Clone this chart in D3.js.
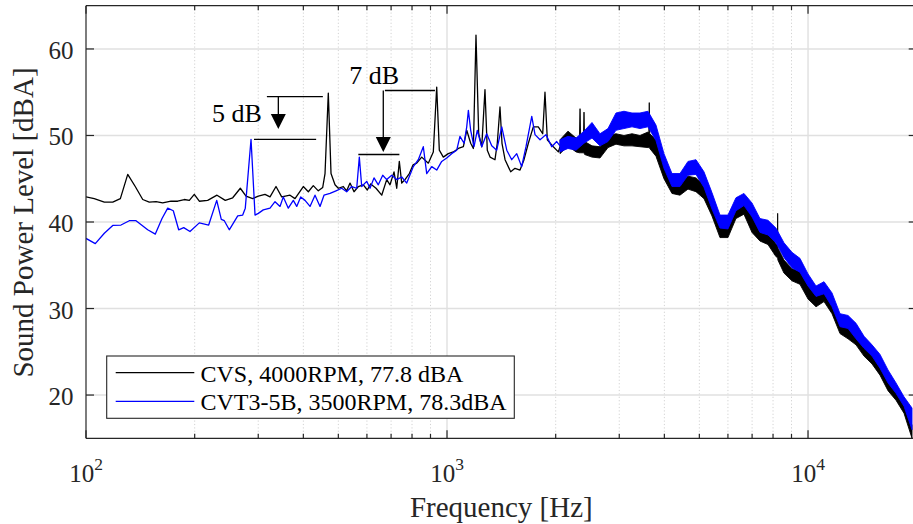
<!DOCTYPE html>
<html>
<head>
<meta charset="utf-8">
<script src="https://cdn.jsdelivr.net/npm/d3@7/dist/d3.min.js"></script>
<style>
  html, body { margin: 0; padding: 0; background: #ffffff; }
  svg { display: block; font-family: "Liberation Serif", "Times New Roman", serif; }
</style>
</head>
<body>
<svg id="chart" width="913" height="524"></svg>
<script>
// ---- Spectrum data: CVS, 4000 RPM (black) ----
// Resolved low-frequency part (single trace)
const cvsFreq = [100, 105.4, 112.4, 118.6, 124.5, 130.5, 136.9, 143.6, 149.7, 156.3, 163.1, 172.0, 179.5, 187.2, 193.3, 199.5, 206.0, 217.3, 230.6, 243.1, 254.9, 267.6, 277.5, 289.6, 300.1, 313.2, 323.4, 336.0, 348.4, 367.4, 379.3, 399.9, 412.9, 426.2, 440.0, 452.6, 459.3, 469.0, 477.2, 489.5, 499.9, 516.1, 527.4, 538.7, 552.6, 568.0, 586.4, 601.5, 614.7, 635.8, 659.4, 680.7, 695.2, 713.2, 725.6, 737.7, 749.1, 765.0, 786.3, 805.1, 824.3, 851.0, 887.6, 916.3, 936.4, 952.1, 976.7, 1008, 1041, 1075, 1110, 1134, 1163, 1183, 1203, 1224, 1248, 1274, 1293, 1316, 1358, 1378, 1402, 1420, 1448, 1501, 1543, 1593, 1634, 1680, 1734, 1790, 1841, 1868, 1896, 1970, 2034, 2056];
const cvsLevel = [42.9, 42.7, 42.3, 42.3, 42.7, 45.5, 44.1, 42.6, 42.3, 42.35, 42.2, 42.4, 42.4, 42.6, 42.5, 43.2, 42.4, 42.5, 43.1, 42.5, 42.8, 43.9, 43.0, 42.7, 43.0, 43.2, 42.9, 44.1, 42.9, 43.1, 42.7, 44.1, 43.5, 44.2, 43.6, 44.0, 45.6, 54.9, 45.6, 44.3, 43.9, 44.1, 43.6, 44.5, 43.5, 44.1, 44.3, 43.7, 44.4, 43.9, 43.1, 44.9, 44.3, 45.8, 43.9, 47.0, 44.5, 44.9, 45.6, 46.6, 46.8, 47.5, 46.8, 48.1, 55.6, 48.3, 47.5, 47.9, 48.1, 48.5, 48.7, 50.6, 49.1, 48.5, 61.6, 50.2, 48.7, 55.3, 48.3, 47.5, 47.2, 49.1, 53.3, 49.1, 47.2, 45.8, 46.2, 46.0, 47.2, 49.1, 51.0, 51.0, 50.2, 55.0, 49.5, 48.7, 48.1, 48.7];
// Dense high-frequency part (min / max of the trace per frequency)
const cvsBandFreq = [2056, 2163, 2277, 2326, 2336, 2346, 2386, 2396, 2406, 2521, 2653, 2792, 2938, 3092, 3254, 3424, 3603, 3622, 3633, 3644, 3792, 3990, 4199, 4419, 4650, 4894, 5150, 5419, 5703, 6001, 6315, 6646, 6994, 7360, 7745, 8150, 8225, 8239, 8253, 8577, 9025, 9498, 10000, 10523, 11074, 11654, 12264, 12906, 13581, 14292, 15040, 15827, 16655, 17527, 18444, 19410];
const cvsBandTop = [49.5, 50.5, 49.7, 49.6, 53.1, 49.5, 49.4, 52.7, 49.3, 48.8, 48.7, 50.0, 50.2, 50.0, 50.2, 50.0, 50.4, 50.3, 53.8, 50.2, 49.5, 46.5, 44.9, 44.7, 45.3, 45.1, 44.3, 42.2, 39.8, 39.7, 41.9, 42.3, 40.6, 39.2, 38.8, 37.5, 37.3, 41.0, 37.0, 35.6, 34.6, 34.3, 32.7, 31.9, 32.2, 30.8, 28.7, 28.1, 27.2, 25.8, 24.8, 23.4, 21.9, 20.4, 19.2, 16.5];
const cvsBandBottom = [47.9, 48.8, 48.1, 48.0, 48.0, 48.0, 48.0, 48.0, 47.8, 47.5, 47.4, 48.6, 49.0, 48.8, 48.8, 48.7, 48.6, 48.6, 48.6, 48.5, 47.6, 45.0, 43.3, 43.1, 43.8, 43.5, 42.7, 40.7, 38.2, 38.2, 40.4, 40.9, 38.8, 37.8, 37.4, 36.0, 35.9, 35.9, 35.6, 34.1, 33.2, 32.8, 31.1, 30.2, 30.8, 29.4, 27.1, 26.5, 25.8, 24.5, 23.6, 22.3, 20.5, 19.4, 17.9, 15.0];

// ---- Spectrum data: CVT3-5B, 3500 RPM (blue) ----
const cvtFreq = [100, 106.1, 112.4, 118.6, 125.0, 131.8, 137.6, 148.2, 155.6, 162.4, 168.4, 174.5, 180.6, 186.5, 194.1, 206.0, 218.7, 230.2, 237.0, 241.6, 249.4, 263.2, 271.7, 276.2, 286.5, 293.9, 300.1, 309.8, 323.4, 333.9, 344.7, 352.0, 363.4, 375.2, 383.4, 393.3, 404.3, 417.4, 430.9, 444.9, 456.3, 474.2, 492.6, 510.9, 527.4, 544.5, 562.2, 571.6, 580.4, 599.2, 612.0, 627.8, 645.2, 663.6, 680.7, 702.8, 725.6, 749.1, 773.4, 806.6, 832.7, 859.7, 878.6, 907.1, 936.4, 966.7, 998.1, 1030, 1064, 1086, 1115, 1134, 1146, 1163, 1188, 1213, 1248, 1288, 1330, 1373, 1418, 1464, 1511, 1560, 1610, 1655, 1717, 1753, 1810, 1880, 1950, 2013, 2056];
const cvtLevel = [38.1, 37.5, 38.7, 39.6, 39.65, 40.15, 40.15, 39.1, 38.6, 40.4, 41.6, 41.3, 39.1, 39.35, 38.9, 39.9, 39.65, 42.5, 40.3, 40.15, 39.1, 40.7, 40.8, 41.6, 49.56, 40.8, 41.0, 41.4, 41.6, 42.35, 41.8, 42.9, 41.6, 42.5, 41.8, 42.9, 42.5, 41.8, 43.1, 41.8, 43.1, 43.3, 43.6, 43.9, 43.5, 44.1, 43.9, 47.5, 44.1, 44.7, 43.9, 45.1, 44.3, 45.4, 44.9, 45.4, 44.9, 45.2, 44.5, 46.4, 47.2, 48.7, 45.6, 46.4, 46.0, 47.0, 47.4, 47.9, 48.3, 49.9, 49.1, 51.0, 52.9, 50.6, 48.7, 50.6, 48.7, 50.2, 48.8, 48.3, 51.0, 48.3, 47.2, 47.9, 46.4, 48.7, 52.2, 50.1, 49.5, 50.1, 48.7, 49.3, 48.8];
const cvtBandFreq = [2056, 2163, 2277, 2396, 2521, 2653, 2792, 2938, 3092, 3254, 3424, 3603, 3792, 3990, 4199, 4419, 4650, 4894, 5150, 5419, 5703, 6001, 6315, 6646, 6994, 7360, 7745, 8150, 8577, 9025, 9498, 10000, 10523, 11074, 11654, 12264, 12906, 13581, 14292, 15040, 15827, 16655, 17527, 18444, 19410];
const cvtBandTop = [49.5, 49.9, 49.7, 50.5, 51.5, 50.2, 50.8, 52.6, 52.8, 52.6, 52.6, 52.8, 51.2, 47.9, 45.6, 45.6, 47.0, 47.2, 45.8, 43.4, 40.8, 40.8, 42.8, 43.3, 42.2, 40.4, 40.2, 39.3, 37.6, 36.5, 35.8, 34.0, 32.6, 33.1, 31.8, 29.4, 29.2, 28.3, 26.8, 25.8, 24.7, 22.9, 21.4, 19.8, 18.5];
const cvtBandBottom = [48.1, 48.5, 48.3, 49.1, 49.7, 48.8, 49.3, 50.6, 50.8, 51.0, 50.8, 51.0, 49.4, 46.2, 44.1, 44.1, 45.4, 45.5, 44.0, 41.5, 39.3, 39.2, 41.3, 41.9, 40.6, 38.8, 38.5, 37.6, 35.9, 34.7, 34.2, 32.6, 31.4, 31.7, 30.2, 27.9, 27.7, 26.5, 25.4, 24.5, 23.1, 21.4, 20.2, 18.7, 16.0];

// ---- Axes, ticks, legend ----
const freqDomain = [100, 20000];
const levelDomain = [15, 65];
const yTicks = [20, 30, 40, 50, 60];
const xDecades = [100, 1000, 10000];
const xDecadeExponents = ["2", "3", "4"];
const xLabel = "Frequency [Hz]";
const yLabel = "Sound Power Level [dBA]";
const seriesNames = ["CVS, 4000RPM, 77.8 dBA", "CVT3-5B, 3500RPM, 78.3dBA"];
const seriesColors = ["#000000", "#0000ff"];

// ---- Level-drop annotations ----
const annoText = ["5 dB", "7 dB"];
const annoTextFreq = [262, 628];
const annoTextLevel = [51.6, 56.0];
const annoTopFreq = [[317, 453], [673, 926]];
const annoTopLevel = [54.5, 55.2];
const annoArrowFreq = [341, 666];
const annoArrowTip = [50.75, 48.1];
const annoBottomFreq = [[292, 434], [568, 738]];
const annoBottomLevel = [49.56, 47.8];

const svg = d3.select("#chart");
const pL = 86, pR = 916.7, pT = 5.7, pB = 438.3;
const x = d3.scaleLog().domain(freqDomain).range([pL, pR]);
const y = d3.scaleLinear().domain(levelDomain).range([pB, pT]);
const axisColor = "#262626";

// minor tick values for the log axis
const minorTicks = [];
xDecades.forEach(d => { for (let k = 2; k <= 9; k++) { const v = d * k; if (v < freqDomain[1]) minorTicks.push(v); } });

// grid
const grid = svg.append("g");
grid.selectAll("line.minor").data(minorTicks).join("line")
  .attr("x1", d => x(d)).attr("x2", d => x(d)).attr("y1", pT).attr("y2", pB)
  .attr("stroke", "#d2d2d2").attr("stroke-width", 1).attr("stroke-dasharray", "1.2,2.2");
grid.selectAll("line.vmaj").data(xDecades.slice(1)).join("line")
  .attr("x1", d => x(d)).attr("x2", d => x(d)).attr("y1", pT).attr("y2", pB)
  .attr("stroke", "#e0e0e0").attr("stroke-width", 1.4);
grid.selectAll("line.hmaj").data(yTicks).join("line")
  .attr("x1", pL).attr("x2", pR).attr("y1", d => y(d)).attr("y2", d => y(d))
  .attr("stroke", "#e0e0e0").attr("stroke-width", 1.4);

// data
svg.append("defs").append("clipPath").attr("id", "plotClip")
  .append("rect").attr("x", pL).attr("y", pT).attr("width", pR - pL).attr("height", pB - pT);
const plot = svg.append("g").attr("clip-path", "url(#plotClip)");

const line = d3.line().x(d => x(d[0])).y(d => y(d[1]));
const band = d3.area().x(d => x(d[0])).y0(d => y(d[2])).y1(d => y(d[1]));

function drawSeries(freq, level, bFreq, bTop, bBot, color) {
  const pts = freq.map((f, i) => [f, level[i]]);
  const bpts = bFreq.map((f, i) => [f, bTop[i], bBot[i]]);
  plot.append("path").attr("d", band(bpts))
    .attr("fill", color).attr("stroke", color).attr("stroke-width", 0.9).attr("stroke-linejoin", "round");
  plot.append("path").attr("d", line(pts))
    .attr("fill", "none").attr("stroke", color).attr("stroke-width", 1.3).attr("stroke-linejoin", "round");
}
drawSeries(cvsFreq, cvsLevel, cvsBandFreq, cvsBandTop, cvsBandBottom, seriesColors[0]);
drawSeries(cvtFreq, cvtLevel, cvtBandFreq, cvtBandTop, cvtBandBottom, seriesColors[1]);

// axes box and ticks
const ax = svg.append("g").attr("stroke", axisColor).attr("stroke-width", 1.2);
ax.append("line").attr("x1", pL).attr("x2", pR).attr("y1", pB).attr("y2", pB);
ax.append("line").attr("x1", pL).attr("x2", pR).attr("y1", pT).attr("y2", pT);
ax.append("line").attr("x1", pL).attr("x2", pL).attr("y1", pT).attr("y2", pB);
ax.append("line").attr("x1", pR).attr("x2", pR).attr("y1", pT).attr("y2", pB);
const majLen = 8, minLen = 4.5;
xDecades.forEach(d => {
  ax.append("line").attr("x1", x(d)).attr("x2", x(d)).attr("y1", pB).attr("y2", pB - majLen);
  ax.append("line").attr("x1", x(d)).attr("x2", x(d)).attr("y1", pT).attr("y2", pT + majLen);
});
minorTicks.forEach(d => {
  ax.append("line").attr("x1", x(d)).attr("x2", x(d)).attr("y1", pB).attr("y2", pB - minLen);
  ax.append("line").attr("x1", x(d)).attr("x2", x(d)).attr("y1", pT).attr("y2", pT + minLen);
});
yTicks.forEach(d => {
  ax.append("line").attr("x1", pL).attr("x2", pL + majLen).attr("y1", y(d)).attr("y2", y(d));
  ax.append("line").attr("x1", pR).attr("x2", pR - majLen).attr("y1", y(d)).attr("y2", y(d));
});

// tick labels
svg.append("g").selectAll("text").data(yTicks).join("text")
  .attr("x", 73.5).attr("y", d => y(d) + 10)
  .attr("text-anchor", "end").attr("font-size", 25).attr("fill", axisColor)
  .text(d => d);
const xl = svg.append("g").selectAll("text").data(xDecades).join("text")
  .attr("x", d => x(d)).attr("y", 481.7)
  .attr("text-anchor", "middle").attr("font-size", 25).attr("fill", axisColor);
xl.append("tspan").text("10");
xl.append("tspan").attr("dy", -11.5).attr("font-size", 17.5).text((d, i) => xDecadeExponents[i]);

// axis labels
svg.append("text").attr("x", (pL + pR) / 2).attr("y", 517.3)
  .attr("text-anchor", "middle").attr("font-size", 29).attr("fill", axisColor).text(xLabel);
svg.append("text").attr("transform", `translate(33.3,${(pT + pB) / 2 + 0.5}) rotate(-90)`)
  .attr("text-anchor", "middle").attr("font-size", 29).attr("fill", axisColor).text(yLabel);

// legend
const lg = svg.append("g");
lg.append("rect").attr("x", 106.7).attr("y", 356).attr("width", 407.6).attr("height", 62.3)
  .attr("fill", "#ffffff").attr("stroke", axisColor).attr("stroke-width", 1.1);
seriesNames.forEach((name, i) => {
  const cy = 372.7 + i * 28.6;
  lg.append("line").attr("x1", 115.7).attr("x2", 194.3).attr("y1", cy).attr("y2", cy)
    .attr("stroke", seriesColors[i]).attr("stroke-width", 1.3);
  lg.append("text").attr("x", 200.5).attr("y", cy + 9)
    .attr("font-size", 24).attr("fill", "#000000").text(name);
});

// annotations
const an = svg.append("g");
annoText.forEach((t, i) => {
  an.append("text").attr("x", x(annoTextFreq[i])).attr("y", y(annoTextLevel[i]))
    .attr("text-anchor", "middle").attr("font-size", 26).attr("fill", "#000000").text(t);
  an.append("line").attr("x1", x(annoTopFreq[i][0])).attr("x2", x(annoTopFreq[i][1]))
    .attr("y1", y(annoTopLevel[i])).attr("y2", y(annoTopLevel[i]))
    .attr("stroke", "#000000").attr("stroke-width", 1.3);
  an.append("line").attr("x1", x(annoBottomFreq[i][0])).attr("x2", x(annoBottomFreq[i][1]))
    .attr("y1", y(annoBottomLevel[i])).attr("y2", y(annoBottomLevel[i]))
    .attr("stroke", "#000000").attr("stroke-width", 1.3);
  const ax0 = x(annoArrowFreq[i]), tipY = y(annoArrowTip[i]);
  an.append("line").attr("x1", ax0).attr("x2", ax0)
    .attr("y1", y(annoTopLevel[i])).attr("y2", tipY - 14)
    .attr("stroke", "#000000").attr("stroke-width", 1.3);
  an.append("path")
    .attr("d", `M${ax0},${tipY} L${ax0 - 7.5},${tipY - 15} L${ax0 + 7.5},${tipY - 15} Z`)
    .attr("fill", "#000000");
});
</script>
</body>
</html>
